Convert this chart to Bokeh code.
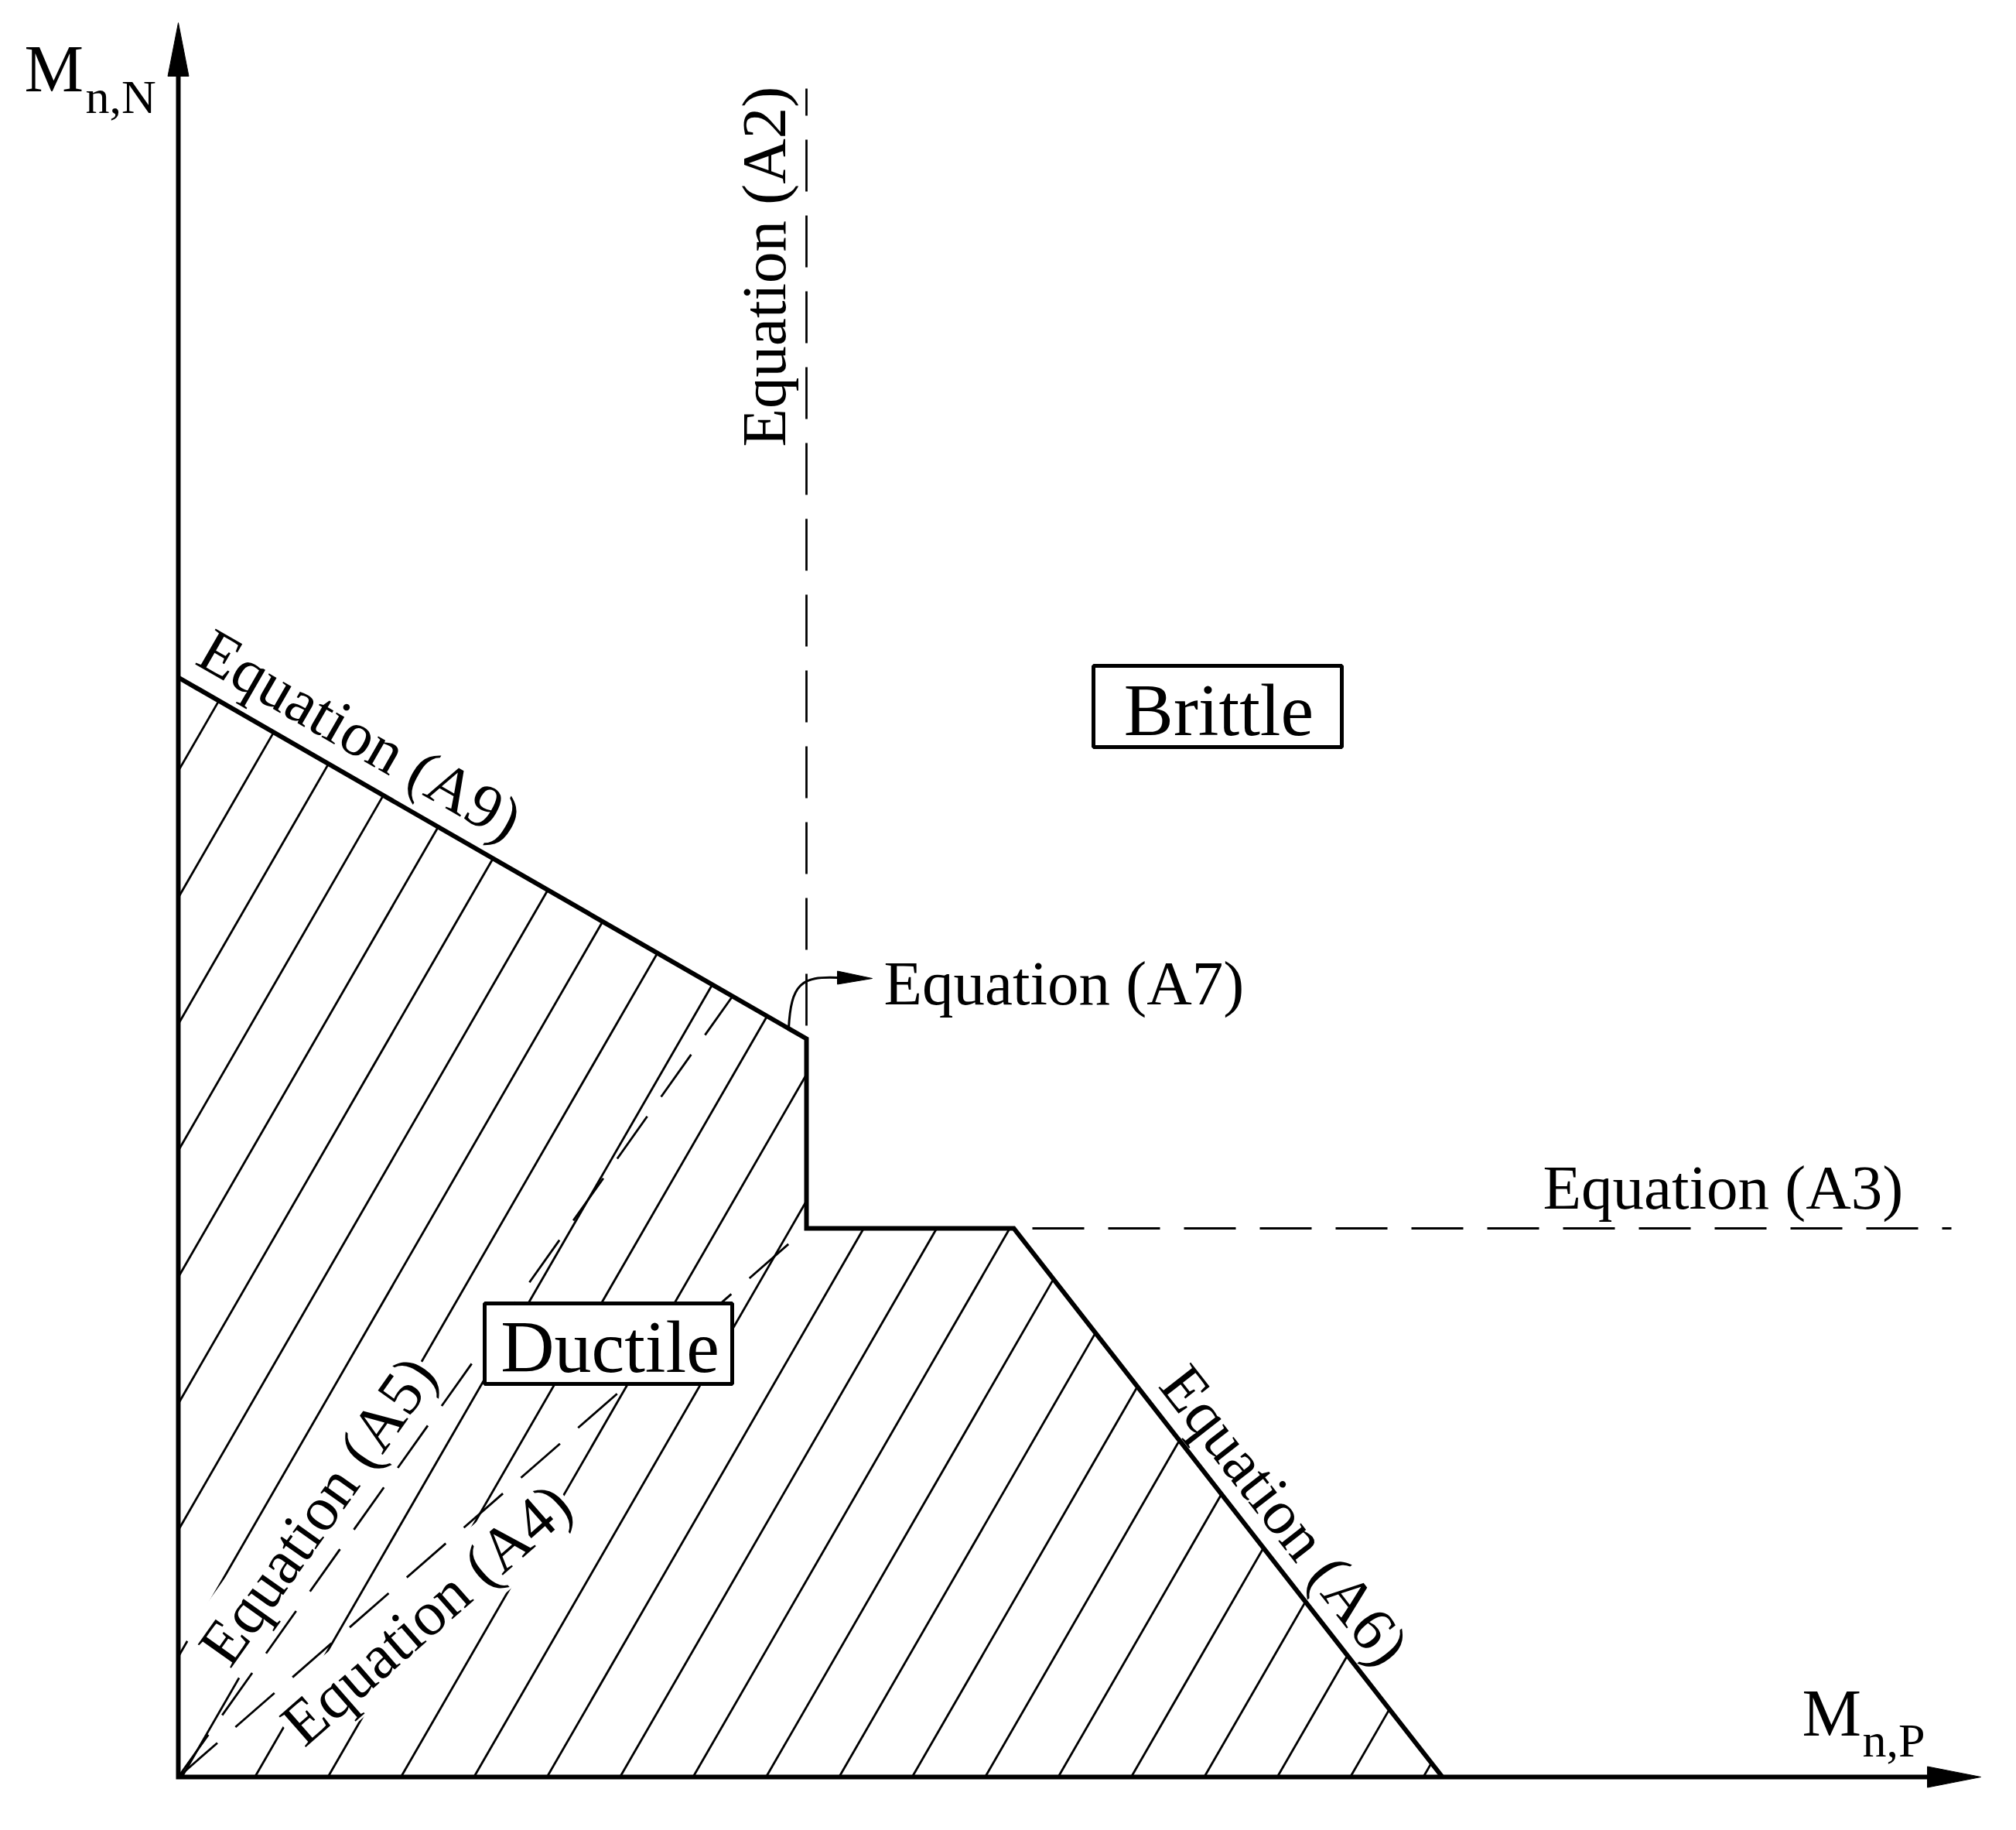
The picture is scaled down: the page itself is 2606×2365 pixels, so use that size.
import math
from bokeh.plotting import figure
from bokeh.models import Range1d
from bokeh.core.properties import value
from bokeh.embed import file_html
from bokeh.resources import INLINE

# ---------------- data (normalized moment units) ----------------
# Boundary of the ductile region: (M_n,P, M_n,N) vertices
boundary_mnp = [0.0, 0.0, 8.12, 8.12, 10.80, 16.34]
boundary_mnn = [0.0, 14.21, 9.54, 7.09, 7.09, 0.0]

# Equation (A2): vertical limit
a2_mnp = [8.12, 8.12]
a2_mnn = [21.82, 9.54]
# Equation (A3): horizontal limit
a3_mnp = [10.80, 22.92]
a3_mnn = [7.09, 7.09]
# Equation (A4)
a4_mnp = [0.0, 8.12]
a4_mnn = [0.0, 7.09]
# Equation (A5)
a5_mnp = [0.0, 7.15]
a5_mnn = [0.0, 10.07]

# axis extents (arrow tips)
axis_tip_mnp = 23.30
axis_tip_mnn = 22.67

region_names = ["Brittle", "Ductile"]
equation_names = ["Equation (A9)", "Equation (A7)", "Equation (A2)", "Equation (A3)",
                  "Equation (A6)", "Equation (A5)", "Equation (A4)"]

# ---------------- layout ----------------
PX = 100.0          # pixels per unit
W, H = 2590, 2349
X0, Y0 = -2.30, -0.53
FONT = value("Liberation Serif")
EQ_SIZE = 81
BASE_FIX = 0.28     # baseline correction (fraction of font size)

p = figure(width=W, height=H,
           x_range=Range1d(X0, X0 + W / PX), y_range=Range1d(Y0, Y0 + H / PX),
           x_axis_location=None, y_axis_location=None,
           toolbar_location=None, output_backend="svg", min_border=0,
           outline_line_color=None)
p.grid.visible = False
p.background_fill_color = "white"
p.border_fill_color = "white"

pts = list(zip(boundary_mnp, boundary_mnn))

# ---------------- hatch (clipped to the ductile polygon) ----------------
def hatch(poly, angle_deg, spacing, phase):
    th = math.radians(angle_deg)
    ux, uy = math.cos(th), math.sin(th)
    nx, ny = -uy, ux
    xs0, ys0, xs1, ys1 = [], [], [], []
    for k in range(-20, 30):
        b = phase + spacing * k
        c = nx * b
        s = [nx * x + ny * y - c for x, y in poly]
        hits = []
        m = len(poly)
        for i in range(m):
            j = (i + 1) % m
            if (s[i] > 0) != (s[j] > 0):
                t = s[i] / (s[i] - s[j])
                px = poly[i][0] + t * (poly[j][0] - poly[i][0])
                py = poly[i][1] + t * (poly[j][1] - poly[i][1])
                hits.append((ux * px + uy * py, px, py))
        hits.sort()
        for a in range(0, len(hits) - 1, 2):
            xs0.append(hits[a][1]); ys0.append(hits[a][2])
            xs1.append(hits[a + 1][1]); ys1.append(hits[a + 1][2])
    return xs0, ys0, xs1, ys1

hx0, hy0, hx1, hy1 = hatch(pts, 60.0, 0.944, 0.99)
p.segment(x0=hx0, y0=hy0, x1=hx1, y1=hy1, line_color="black", line_width=2.8)

# ---------------- labels ----------------
def along(p0, p1, s, off):
    dx, dy = p1[0] - p0[0], p1[1] - p0[1]
    L = math.hypot(dx, dy)
    ux, uy = dx / L, dy / L
    return p0[0] + ux * s - uy * off, p0[1] + uy * s + ux * off, math.atan2(dy, dx)

def label(x, y, txt, angle=0.0, size=EQ_SIZE, align="left", bg=None):
    kw = {}
    if bg:
        kw = dict(background_fill_color=bg, padding=2)
    sh = BASE_FIX * size / PX
    x += -math.sin(angle) * sh
    y += math.cos(angle) * sh
    p.text(x=[x], y=[y], text=[txt], angle=angle, text_font=FONT,
           text_font_size=f"{size}px", text_color="black", text_align=align,
           text_baseline="alphabetic", **kw)

x, y, a = along((a5_mnp[0], a5_mnn[0]), (a5_mnp[1], a5_mnn[1]), 1.50, 0.30)
label(x, y, equation_names[5], a, bg="white")
x, y, a = along((a4_mnp[0], a4_mnn[0]), (a4_mnp[1], a4_mnn[1]), 1.45, -0.75)
label(x, y, equation_names[6], a, bg="white")

# ---------------- dashed limit lines ----------------
dash = dict(line_color="black", line_width=2.8, line_dash="67 31")
p.line(a2_mnp, a2_mnn, line_dash_offset=32, **dash)
p.line(a3_mnp, a3_mnn, line_dash_offset=74, **dash)
p.line(a4_mnp, a4_mnn, **dash)
p.line(a5_mnp, a5_mnn, **dash)

# ---------------- solid boundary ----------------
p.line(boundary_mnp[1:], boundary_mnn[1:], line_color="black", line_width=6,
       line_join="miter")

# ---------------- axes with arrowheads ----------------
head_len, head_half = 0.69, 0.135
p.line([0, 0, axis_tip_mnp - head_len], [axis_tip_mnn - head_len, 0, 0],
       line_color="black", line_width=6, line_join="miter")
p.patches(xs=[[-head_half, head_half, 0],
              [axis_tip_mnp - head_len, axis_tip_mnp - head_len, axis_tip_mnp]],
          ys=[[axis_tip_mnn - head_len, axis_tip_mnn - head_len, axis_tip_mnn],
              [-head_half, head_half, 0]],
          fill_color="black", line_color="black", line_width=1)

# axis titles (M with subscript)
label(-1.99, 21.83, "M", size=86)
label(-1.20, 21.54, "n,N", size=62)
label(20.99, 0.58, "M", size=86)
label(21.77, 0.30, "n,P", size=62)

# ---------------- equation labels ----------------
b = list(zip(boundary_mnp, boundary_mnn))
x, y, a = along(b[1], b[2], 0.08, 0.30)
label(x, y, equation_names[0], a)
x, y, a = along(b[4], b[5], 2.75, 0.25)
label(x, y, equation_names[4], a)
label(7.80, 17.19, equation_names[2], math.pi / 2)
label(17.64, 7.39, equation_names[3])
label(9.12, 10.03, equation_names[1])

# curved pointer for Equation (A7)
sx = 7.89
sy = b[1][1] + (b[2][1] - b[1][1]) * sx / b[2][0]
p.bezier(x0=[sx], y0=[sy], x1=[8.52], y1=[10.33], cx0=[sx + 0.03], cy0=[10.25],
         cx1=[8.05], cy1=[10.35], line_color="black", line_width=3)
p.patch([8.52, 8.52, 8.97], [10.245, 10.415, 10.32], fill_color="black",
        line_color="black", line_width=1)

# ---------------- region boxes ----------------
p.quad(left=[11.83, 3.96], right=[15.04, 7.16], top=[14.36, 6.12], bottom=[13.31, 5.08],
       fill_color="white", line_color="black", line_width=5)
label(13.45, 13.52, region_names[0], size=96, align="center")
label(5.58, 5.29, region_names[1], size=96, align="center")

open("out.html", "w").write(file_html(p, INLINE))
